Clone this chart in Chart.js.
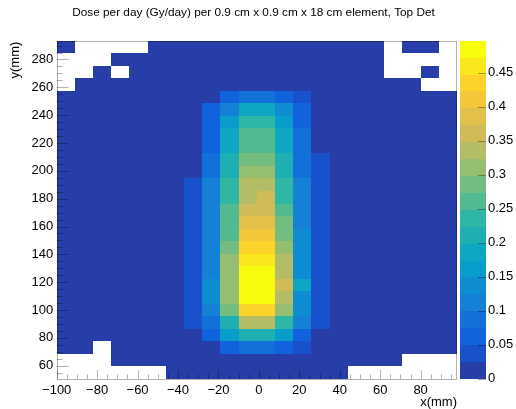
<!DOCTYPE html>
<html>
<head>
<meta charset="utf-8">
<script src="https://cdn.jsdelivr.net/npm/chart.js@4/dist/chart.umd.min.js"></script>
<style>
  html, body { margin: 0; padding: 0; background: #fff; }
  canvas { display: block; }
</style>
</head>
<body>
<canvas id="c" width="516" height="409"></canvas>
<script>
// Bin edges of the 0.9 cm elements (mm)
const xEdges = [-100, -91, -82, -73, -64, -55, -46, -37, -28, -19, -10, -1, 8, 17, 26, 35, 44, 53, 62, 71, 80, 89, 98];
const yEdges = [50.5, 59.5, 68.5, 77.5, 86.5, 95.5, 104.5, 113.5, 122.5, 131.5, 140.5, 149.5, 158.5, 167.5,
                176.5, 185.5, 194.5, 203.5, 212.5, 221.5, 230.5, 239.5, 248.5, 257.5, 266.5, 275.5, 284.5, 293.5];

// Tick labels
const xTickValues = [-100, -80, -60, -40, -20, 0, 20, 40, 60, 80];
const yTickValues = [60, 80, 100, 120, 140, 160, 180, 200, 220, 240, 260, 280];
const zTickValues = [0, 0.05, 0.1, 0.15, 0.2, 0.25, 0.3, 0.35, 0.4, 0.45];

// Dose (Gy/day) per element, one row per y bin, listed from the top row (284.5-293.5 mm) down.
// null = empty element (no dose recorded).
const N = null;
const doseRows = [
  [0.01, N, N, N, N, 0.01, 0.01, 0.01, 0.01, 0.01, 0.01, 0.01, 0.01, 0.01, 0.01, 0.01, 0.01, 0.01, N, 0.01, 0.01, N],
  [N, N, N, 0.01, 0.01, 0.01, 0.01, 0.01, 0.01, 0.01, 0.01, 0.01, 0.01, 0.01, 0.01, 0.01, 0.01, 0.01, N, N, N, N],
  [N, N, 0.01, N, 0.01, 0.01, 0.01, 0.01, 0.01, 0.01, 0.01, 0.01, 0.01, 0.01, 0.01, 0.01, 0.01, 0.01, N, N, 0.01, N],
  [N, 0.01, 0.01, 0.01, 0.01, 0.01, 0.01, 0.01, 0.01, 0.01, 0.01, 0.01, 0.01, 0.01, 0.01, 0.01, 0.01, 0.01, 0.01, 0.01, N, N],
  [0.01, 0.01, 0.01, 0.01, 0.01, 0.01, 0.01, 0.01, 0.01, 0.062, 0.087, 0.087, 0.062, 0.037, 0.01, 0.01, 0.01, 0.01, 0.01, 0.01, 0.01, 0.01],
  [0.01, 0.01, 0.01, 0.01, 0.01, 0.01, 0.01, 0.01, 0.062, 0.112, 0.186, 0.186, 0.137, 0.062, 0.01, 0.01, 0.01, 0.01, 0.01, 0.01, 0.01, 0.01],
  [0.01, 0.01, 0.01, 0.01, 0.01, 0.01, 0.01, 0.01, 0.062, 0.162, 0.236, 0.236, 0.162, 0.062, 0.01, 0.01, 0.01, 0.01, 0.01, 0.01, 0.01, 0.01],
  [0.01, 0.01, 0.01, 0.01, 0.01, 0.01, 0.01, 0.01, 0.062, 0.186, 0.261, 0.261, 0.186, 0.087, 0.01, 0.01, 0.01, 0.01, 0.01, 0.01, 0.01, 0.01],
  [0.01, 0.01, 0.01, 0.01, 0.01, 0.01, 0.01, 0.01, 0.062, 0.186, 0.261, 0.261, 0.186, 0.087, 0.01, 0.01, 0.01, 0.01, 0.01, 0.01, 0.01, 0.01],
  [0.01, 0.01, 0.01, 0.01, 0.01, 0.01, 0.01, 0.01, 0.087, 0.211, 0.286, 0.286, 0.211, 0.087, 0.037, 0.01, 0.01, 0.01, 0.01, 0.01, 0.01, 0.01],
  [0.01, 0.01, 0.01, 0.01, 0.01, 0.01, 0.01, 0.01, 0.087, 0.211, 0.311, 0.311, 0.211, 0.087, 0.037, 0.01, 0.01, 0.01, 0.01, 0.01, 0.01, 0.01],
  [0.01, 0.01, 0.01, 0.01, 0.01, 0.01, 0.01, 0.037, 0.112, 0.236, 0.335, 0.335, 0.236, 0.112, 0.037, 0.01, 0.01, 0.01, 0.01, 0.01, 0.01, 0.01],
  [0.01, 0.01, 0.01, 0.01, 0.01, 0.01, 0.01, 0.037, 0.112, 0.236, 0.335, 0.360, 0.236, 0.112, 0.037, 0.01, 0.01, 0.01, 0.01, 0.01, 0.01, 0.01],
  [0.01, 0.01, 0.01, 0.01, 0.01, 0.01, 0.01, 0.037, 0.112, 0.261, 0.360, 0.360, 0.261, 0.112, 0.037, 0.01, 0.01, 0.01, 0.01, 0.01, 0.01, 0.01],
  [0.01, 0.01, 0.01, 0.01, 0.01, 0.01, 0.01, 0.037, 0.112, 0.261, 0.385, 0.385, 0.286, 0.112, 0.037, 0.01, 0.01, 0.01, 0.01, 0.01, 0.01, 0.01],
  [0.01, 0.01, 0.01, 0.01, 0.01, 0.01, 0.01, 0.037, 0.112, 0.261, 0.410, 0.410, 0.286, 0.137, 0.037, 0.01, 0.01, 0.01, 0.01, 0.01, 0.01, 0.01],
  [0.01, 0.01, 0.01, 0.01, 0.01, 0.01, 0.01, 0.037, 0.112, 0.286, 0.435, 0.435, 0.311, 0.137, 0.037, 0.01, 0.01, 0.01, 0.01, 0.01, 0.01, 0.01],
  [0.01, 0.01, 0.01, 0.01, 0.01, 0.01, 0.01, 0.037, 0.112, 0.311, 0.460, 0.460, 0.335, 0.137, 0.037, 0.01, 0.01, 0.01, 0.01, 0.01, 0.01, 0.01],
  [0.01, 0.01, 0.01, 0.01, 0.01, 0.01, 0.01, 0.037, 0.112, 0.311, 0.485, 0.488, 0.335, 0.137, 0.037, 0.01, 0.01, 0.01, 0.01, 0.01, 0.01, 0.01],
  [0.01, 0.01, 0.01, 0.01, 0.01, 0.01, 0.01, 0.037, 0.137, 0.311, 0.490, 0.497, 0.360, 0.186, 0.037, 0.01, 0.01, 0.01, 0.01, 0.01, 0.01, 0.01],
  [0.01, 0.01, 0.01, 0.01, 0.01, 0.01, 0.01, 0.037, 0.137, 0.311, 0.486, 0.489, 0.335, 0.137, 0.037, 0.01, 0.01, 0.01, 0.01, 0.01, 0.01, 0.01],
  [0.01, 0.01, 0.01, 0.01, 0.01, 0.01, 0.01, 0.037, 0.112, 0.286, 0.435, 0.435, 0.311, 0.137, 0.037, 0.01, 0.01, 0.01, 0.01, 0.01, 0.01, 0.01],
  [0.01, 0.01, 0.01, 0.01, 0.01, 0.01, 0.01, 0.037, 0.087, 0.211, 0.335, 0.335, 0.236, 0.112, 0.037, 0.01, 0.01, 0.01, 0.01, 0.01, 0.01, 0.01],
  [0.01, 0.01, 0.01, 0.01, 0.01, 0.01, 0.01, 0.01, 0.062, 0.162, 0.211, 0.211, 0.162, 0.062, 0.01, 0.01, 0.01, 0.01, 0.01, 0.01, 0.01, 0.01],
  [0.01, 0.01, N, 0.01, 0.01, 0.01, 0.01, 0.01, 0.01, 0.062, 0.087, 0.087, 0.062, 0.037, 0.01, 0.01, 0.01, 0.01, 0.01, 0.01, 0.01, 0.01],
  [N, N, N, 0.01, 0.01, 0.01, 0.01, 0.01, 0.01, 0.01, 0.01, 0.01, 0.01, 0.01, 0.01, 0.01, 0.01, 0.01, 0.01, N, N, N],
  [N, N, N, N, N, N, 0.01, 0.01, 0.01, 0.01, 0.01, 0.01, 0.01, 0.01, 0.01, 0.01, N, N, N, N, N, N]
];

// One point per element at the bin centre, carrying its dose and bin indices
const cells = [];
const nRows = yEdges.length - 1;
doseRows.forEach((row, k) => {
  const j = nRows - 1 - k;           // y bin index from the bottom
  row.forEach((v, i) => {
    if (v === null) return;
    cells.push({ x: (xEdges[i] + xEdges[i + 1]) / 2, y: (yEdges[j] + yEdges[j + 1]) / 2, v, i, j });
  });
});
const zMax = Math.max(...cells.map(c => c.v));
const nLevels = 20;

// kBird colour palette
const birdStops = [0.0, 0.125, 0.25, 0.375, 0.5, 0.625, 0.75, 0.875, 1.0];
const birdR = [0.2082, 0.0592, 0.0780, 0.0232, 0.1802, 0.5301, 0.8186, 0.9956, 0.9764];
const birdG = [0.1664, 0.3599, 0.5041, 0.6419, 0.7178, 0.7492, 0.7328, 0.7862, 0.9832];
const birdB = [0.5293, 0.8684, 0.8385, 0.7914, 0.6425, 0.4662, 0.3499, 0.1968, 0.0539];
function birdAt(f) {
  let s = 0;
  while (s < birdStops.length - 2 && f > birdStops[s + 1]) s++;
  const t = (f - birdStops[s]) / (birdStops[s + 1] - birdStops[s]);
  const c = a => Math.round(255 * (a[s] + (a[s + 1] - a[s]) * t));
  return `rgb(${c(birdR)},${c(birdG)},${c(birdB)})`;
}
function levelColor(level) {
  const idx = Math.floor((level + 0.99) * 255 / nLevels);
  return birdAt(idx / 254);
}
function valueColor(v) {
  return levelColor(Math.min(nLevels - 1, Math.floor(v / zMax * nLevels)));
}

const FONT = "'Liberation Sans', Arial, Helvetica, sans-serif";
const minus = s => String(s).replace('-', '\u2212');

const heatmapPlugin = {
  id: 'heatmap',
  beforeDatasetsDraw(chart) {
    const { ctx, chartArea: a, scales: { x, y } } = chart;
    ctx.save();
    ctx.beginPath();
    ctx.rect(a.left, a.top, a.right - a.left, a.bottom - a.top);
    ctx.clip();
    chart.data.datasets[0].data.forEach(c => {
      const L = Math.round(x.getPixelForValue(xEdges[c.i]));
      const R = Math.round(x.getPixelForValue(xEdges[c.i + 1]));
      const T = Math.round(y.getPixelForValue(yEdges[c.j + 1]));
      const B = Math.round(y.getPixelForValue(yEdges[c.j]));
      ctx.fillStyle = valueColor(c.v);
      ctx.fillRect(L, T, R - L, B - T);
    });
    ctx.restore();
  },
  afterDatasetsDraw(chart) {
    const { ctx, chartArea: a, scales: { x, y, z } } = chart;
    ctx.save();
    ctx.strokeStyle = 'rgba(0,0,0,0.3)';
    ctx.lineWidth = 1;
    // frame
    ctx.strokeRect(Math.round(a.left) + 0.5, Math.round(a.top) + 0.5,
                   Math.round(a.right - a.left) - 1, Math.round(a.bottom - a.top));
    // inward ticks on x
    ctx.beginPath();
    for (let v = Math.ceil(x.min / 5) * 5; v <= x.max; v += 5) {
      const px = Math.round(x.getPixelForValue(v)) + 0.5;
      const len = v % 20 === 0 ? 9 : 4.5;
      ctx.moveTo(px, a.bottom);
      ctx.lineTo(px, a.bottom - len);
    }
    // inward ticks on y
    for (let v = Math.ceil(y.min / 5) * 5; v <= y.max; v += 5) {
      const py = Math.round(y.getPixelForValue(v)) + 0.5;
      const len = v % 20 === 0 ? 12 : 6;
      ctx.moveTo(a.left, py);
      ctx.lineTo(a.left + len, py);
    }
    ctx.stroke();

    // colour scale
    const barL = Math.round(z.left) + 3, barR = Math.round(z.left) + 29;
    for (let k = 0; k < nLevels; k++) {
      const b = Math.round(z.getPixelForValue(zMax * k / nLevels));
      const t = Math.round(z.getPixelForValue(zMax * (k + 1) / nLevels));
      ctx.fillStyle = levelColor(k);
      ctx.fillRect(barL, t, barR - barL, b - t);
    }
    ctx.strokeStyle = 'rgba(0,0,0,0.35)';
    ctx.beginPath();
    zTickValues.forEach(v => {
      const py = Math.round(z.getPixelForValue(v)) + 0.5;
      ctx.moveTo(barR, py);
      ctx.lineTo(barR - 8, py);
    });
    ctx.stroke();
    ctx.restore();
  },
  afterDraw(chart) {
    const { ctx, chartArea: a } = chart;
    ctx.save();
    ctx.fillStyle = '#000';
    ctx.font = `11.8px ${FONT}`;
    ctx.textAlign = 'center';
    ctx.textBaseline = 'middle';
    ctx.fillText('Dose per day (Gy/day) per 0.9 cm x 0.9 cm x 18 cm element, Top Det', 253.5, 13);
    ctx.font = `13px ${FONT}`;
    ctx.textAlign = 'right';
    ctx.fillText('x(mm)', a.right, 402);
    ctx.translate(15, a.top + 1);
    ctx.rotate(-Math.PI / 2);
    ctx.fillText('y(mm)', 0, 0);
    ctx.restore();
  }
};

const tickFont = { family: FONT, size: 13 };

new Chart(document.getElementById('c'), {
  type: 'scatter',
  data: { datasets: [{ data: cells, pointRadius: 0, pointHoverRadius: 0 }] },
  options: {
    responsive: false,
    devicePixelRatio: 1,
    animation: false,
    events: [],
    layout: { padding: { top: 40.7, left: 0, right: 0, bottom: 0 } },
    plugins: { legend: { display: false }, tooltip: { enabled: false }, title: { display: false } },
    scales: {
      x: {
        type: 'linear', position: 'bottom', min: -100, max: 98,
        grid: { display: false, drawTicks: false }, border: { display: false },
        afterBuildTicks: s => { s.ticks = xTickValues.map(v => ({ value: v })); },
        afterFit: s => { s.height = 30.1; },
        ticks: { autoSkip: false, maxRotation: 0, padding: 4, color: '#000', font: tickFont, callback: v => minus(v) }
      },
      y: {
        type: 'linear', position: 'left', min: 50.5, max: 293.5,
        grid: { display: false, drawTicks: false }, border: { display: false },
        afterBuildTicks: s => { s.ticks = yTickValues.map(v => ({ value: v })); },
        afterFit: s => { s.width = 56.7; s.paddingTop = 0; s.paddingBottom = 0; },
        ticks: { autoSkip: false, padding: 3.5, color: '#000', font: tickFont, callback: v => minus(v) }
      },
      z: {
        type: 'linear', axis: 'y', position: 'right', min: 0, max: zMax, display: true,
        grid: { display: false, drawTicks: false }, border: { display: false },
        afterBuildTicks: s => { s.ticks = zTickValues.map(v => ({ value: v })); },
        afterFit: s => { s.width = 59; s.paddingTop = 0; s.paddingBottom = 0; },
        ticks: { autoSkip: false, padding: 31, color: '#000', font: tickFont, callback: v => String(+Number(v).toFixed(2)) }
      }
    }
  },
  plugins: [heatmapPlugin]
});
</script>
</body>
</html>
